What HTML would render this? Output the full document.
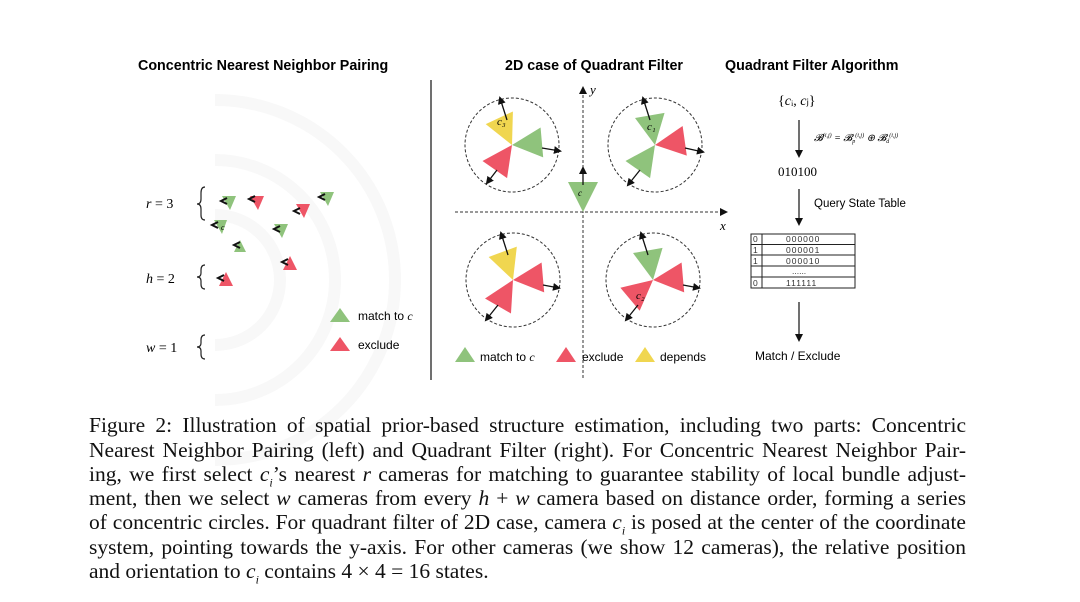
<!DOCTYPE html>
<html><head><meta charset="utf-8"><style>
body{margin:0;width:1080px;height:602px;background:#fff;position:relative;overflow:hidden}
svg{position:absolute;left:0;top:0}
.cap{position:absolute;left:89px;width:877px;font-family:"Liberation Serif",serif;font-size:21.5px;line-height:24px;color:#111;text-align:justify;text-align-last:justify;white-space:nowrap}
.cap.l{text-align-last:left}
i{font-style:italic}
sub{font-size:12px;line-height:0}
</style></head><body>
<svg width="1080" height="602" viewBox="0 0 1080 602" font-family="Liberation Sans, sans-serif">
<defs>
<marker id="ah" markerWidth="8" markerHeight="8" refX="6" refY="4" orient="auto" markerUnits="userSpaceOnUse"><path d="M0,0 L8,4 L0,8 z" fill="#111"/></marker>
<path id="tri" d="M0,0 L30,-15 L30,15 z"/>
</defs>
<text x="138" y="70" font-size="14.3" font-weight="bold">Concentric Nearest Neighbor Pairing</text>
<text x="505" y="70" font-size="14.3" font-weight="bold">2D case of Quadrant Filter</text>
<text x="725" y="70" font-size="14.3" font-weight="bold">Quadrant Filter Algorithm</text>
<g fill="none" stroke="#f8f8f8" stroke-width="12">
<path d="M215,100 A180,180 0 0 1 215,460"/>
<path d="M215,160 A120,120 0 0 1 215,400"/>
<path d="M215,215 A65,65 0 0 1 215,345"/>
</g>
<g font-family="Liberation Serif, serif" font-size="14">
<text x="146" y="208"><tspan font-style="italic">r</tspan> = 3</text>
<text x="146" y="283"><tspan font-style="italic">h</tspan> = 2</text>
<text x="146" y="352"><tspan font-style="italic">w</tspan> = 1</text>
</g>
<g fill="none" stroke="#222" stroke-width="1.2">
<path d="M205,187 q-4,0 -4,6 v6 q0,5 -4,5 q4,0 4,5 v6 q0,5 4,5"/>
<path d="M205,265 q-4,0 -4,5 v3 q0,4 -4,4 q4,0 4,4 v3 q0,5 4,5"/>
<path d="M205,335 q-4,0 -4,5 v3 q0,4 -4,4 q4,0 4,4 v3 q0,5 4,5"/>
</g>
<g>
<g fill="#8fc37c">
<polygon points="222,196 236,196 230,210"/><polygon points="320,192 334,192 328,206"/>
<polygon points="214,220 227,220 222,234"/><polygon points="274,224 288,224 282,238"/>
<polygon points="240,240 246,252 234,252" />
</g>
<g fill="#ee5566">
<polygon points="250,196 264,196 258,210"/><polygon points="296,204 310,204 304,218"/>
<polygon points="290,256 297,270 283,270"/><polygon points="226,272 233,286 219,286"/>
</g>
<g fill="none" stroke="#111" stroke-width="2">
<path d="M227,198 l-6,3 l6,3"/><path d="M255,196 l-6,3 l6,3"/><path d="M300,208 l-6,3 l6,3"/>
<path d="M325,194 l-6,3 l6,3"/><path d="M218,222 l-6,3 l6,3"/><path d="M280,226 l-6,3 l6,3"/>
<path d="M240,242 l-6,3 l6,3"/><path d="M288,259 l-6,3 l6,3"/><path d="M224,275 l-6,3 l6,3"/>
</g>
<text x="221" y="230" font-size="8" font-family="Liberation Serif, serif" font-style="italic">c</text>
</g>
<polygon points="340,308 350,322 330,322" fill="#8fc37c"/>
<text x="358" y="320" font-size="12">match to <tspan font-family="Liberation Serif, serif" font-style="italic">c</tspan></text>
<polygon points="340,337 350,351 330,351" fill="#ee5566"/>
<text x="358" y="349" font-size="12">exclude</text>
<line x1="431" y1="80" x2="431" y2="380" stroke="#111" stroke-width="1.2"/>
<g stroke="#333" stroke-width="1" stroke-dasharray="3,2" fill="none">
<line x1="583" y1="378" x2="583" y2="88" marker-end="url(#ah)"/>
<line x1="455" y1="212" x2="726" y2="212" marker-end="url(#ah)"/>
</g>
<text x="590" y="94" font-size="13" font-family="Liberation Serif, serif" font-style="italic">y</text>
<text x="720" y="230" font-size="13" font-family="Liberation Serif, serif" font-style="italic">x</text>
<g fill="none" stroke="#333" stroke-width="1" stroke-dasharray="3,2">
<circle cx="512" cy="145" r="47"/><circle cx="655" cy="145" r="47"/>
<circle cx="513" cy="280" r="47"/><circle cx="653" cy="280" r="47"/>
</g>
<g transform="translate(512,145)">
<use href="#tri" fill="#f0d650" transform="rotate(-115)"/>
<use href="#tri" fill="#8fc37c" transform="rotate(-5)"/>
<use href="#tri" fill="#ee5566" transform="rotate(125)"/>
<g stroke="#111" stroke-width="1.3" marker-end="url(#ah)"><line x1="-5" y1="-25" x2="-12" y2="-47"/><line x1="30" y1="3" x2="48" y2="6"/><line x1="-15" y1="25" x2="-25" y2="38"/></g>
<text x="-15" y="-20" font-size="11" font-family="Liberation Serif, serif" font-style="italic">c₃</text>
</g>
<g transform="translate(655,145)">
<use href="#tri" fill="#8fc37c" transform="rotate(-100)"/>
<use href="#tri" fill="#ee5566" transform="rotate(-8)"/>
<use href="#tri" fill="#8fc37c" transform="rotate(125)"/>
<g stroke="#111" stroke-width="1.3" marker-end="url(#ah)"><line x1="-5" y1="-25" x2="-12" y2="-47"/><line x1="30" y1="3" x2="48" y2="7"/><line x1="-15" y1="25" x2="-27" y2="40"/></g>
<text x="-8" y="-15" font-size="11" font-family="Liberation Serif, serif" font-style="italic">c₁</text>
</g>
<g transform="translate(513,280)">
<use href="#tri" fill="#f0d650" transform="rotate(-110)"/>
<use href="#tri" fill="#ee5566" transform="rotate(-5)"/>
<use href="#tri" fill="#ee5566" transform="rotate(120)"/>
<g stroke="#111" stroke-width="1.3" marker-end="url(#ah)"><line x1="-5" y1="-25" x2="-12" y2="-47"/><line x1="30" y1="5" x2="46" y2="8"/><line x1="-15" y1="25" x2="-27" y2="40"/></g>
</g>
<g transform="translate(653,280)">
<use href="#tri" fill="#8fc37c" transform="rotate(-100)"/>
<use href="#tri" fill="#ee5566" transform="rotate(-5)"/>
<use href="#tri" fill="#ee5566" transform="rotate(140)"/>
<g stroke="#111" stroke-width="1.3" marker-end="url(#ah)"><line x1="-5" y1="-25" x2="-12" y2="-47"/><line x1="30" y1="5" x2="46" y2="8"/><line x1="-15" y1="25" x2="-27" y2="40"/></g>
<text x="-17" y="19" font-size="11" font-family="Liberation Serif, serif" font-style="italic">c₂</text>
</g>
<polygon points="568,182 598,182 583,212" fill="#8fc37c"/>
<line x1="583" y1="185" x2="583" y2="168" stroke="#111" stroke-width="1.3" marker-end="url(#ah)"/>
<text x="578" y="196" font-size="9" font-family="Liberation Serif, serif" font-style="italic">c</text>
<polygon points="465,347 475,362 455,362" fill="#8fc37c"/>
<text x="480" y="361" font-size="12">match to <tspan font-family="Liberation Serif, serif" font-style="italic">c</tspan></text>
<polygon points="566,347 576,362 556,362" fill="#ee5566"/>
<text x="582" y="361" font-size="12">exclude</text>
<polygon points="645,347 655,362 635,362" fill="#f0d650"/>
<text x="660" y="361" font-size="12">depends</text>
<text x="778" y="105" font-size="14" font-family="Liberation Serif, serif">{<tspan font-style="italic">c</tspan>ᵢ, <tspan font-style="italic">c</tspan>ⱼ}</text>
<g stroke="#111" stroke-width="1.2" marker-end="url(#ah)">
<line x1="799" y1="120" x2="799" y2="156"/>
<line x1="799" y1="189" x2="799" y2="224"/>
<line x1="799" y1="302" x2="799" y2="340"/>
</g>
<text x="814" y="141" font-size="10" font-family="Liberation Serif, serif" font-style="italic">𝓑<tspan font-size="6" dy="-4">(i,j)</tspan><tspan dy="4"> = 𝓑</tspan><tspan font-size="6" dy="2">p</tspan><tspan font-size="6" dy="-6">(i,j)</tspan><tspan dy="4"> ⊕ 𝓑</tspan><tspan font-size="6" dy="2">d</tspan><tspan font-size="6" dy="-6">(i,j)</tspan></text>
<text x="778" y="176" font-size="13" font-family="Liberation Serif, serif">010100</text>
<text x="814" y="207" font-size="11.5">Query State Table</text>
<g fill="none" stroke="#222" stroke-width="1">
<rect x="751" y="234" width="104" height="54"/>
<line x1="762" y1="234" x2="762" y2="288"/>
<line x1="751" y1="244.5" x2="855" y2="244.5"/><line x1="751" y1="255" x2="855" y2="255"/>
<line x1="751" y1="266" x2="855" y2="266"/><line x1="751" y1="277" x2="855" y2="277"/>
</g>
<g font-size="8.5" font-family="Liberation Sans, sans-serif" fill="#333">
<text x="753" y="242">0</text><text x="753" y="253">1</text><text x="753" y="264">1</text><text x="753" y="286">0</text>
<text x="786" y="242" letter-spacing="1">000000</text><text x="786" y="253" letter-spacing="1">000001</text>
<text x="786" y="264" letter-spacing="1">000010</text><text x="792" y="274">......</text>
<text x="786" y="286" letter-spacing="1">111111</text>
</g>
<text x="755" y="360" font-size="12">Match / Exclude</text>
</svg>
<div class="cap" style="top:413px">Figure 2: Illustration of spatial prior-based structure estimation, including two parts: Concentric</div>
<div class="cap" style="top:437.5px">Nearest Neighbor Pairing (left) and Quadrant Filter (right). For Concentric Nearest Neighbor Pair-</div>
<div class="cap" style="top:462px">ing, we first select <i>c<sub>i</sub></i>’s nearest <i>r</i> cameras for matching to guarantee stability of local bundle adjust-</div>
<div class="cap" style="top:486px">ment, then we select <i>w</i> cameras from every <i>h</i> + <i>w</i> camera based on distance order, forming a series</div>
<div class="cap" style="top:510px">of concentric circles. For quadrant filter of 2D case, camera <i>c<sub>i</sub></i> is posed at the center of the coordinate</div>
<div class="cap" style="top:534.5px">system, pointing towards the y-axis. For other cameras (we show 12 cameras), the relative position</div>
<div class="cap l" style="top:559px">and orientation to <i>c<sub>i</sub></i> contains 4 × 4 = 16 states.</div>
</body></html>
